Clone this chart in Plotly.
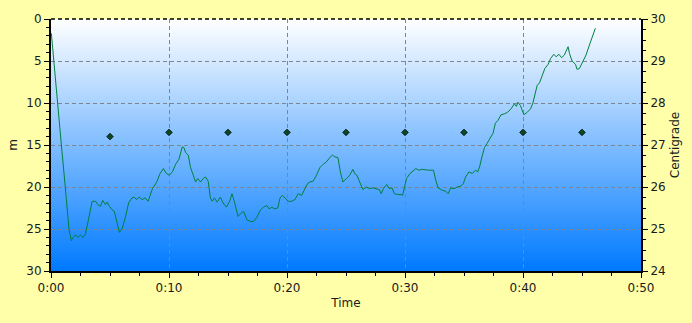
import plotly.graph_objects as go

# Depth profile (minutes, metres)
time_min = [0.03, 0.23, 0.54, 0.88, 1.21, 1.52, 1.72, 1.86, 2.08, 2.28, 2.5, 2.7, 2.92, 3.21, 3.49, 3.77, 3.97,
            4.19, 4.39, 4.61, 4.75, 4.95, 5.17, 5.37, 5.57, 5.79, 6.02, 6.29, 6.58, 6.86, 7.05, 7.25, 7.47, 7.7,
            7.98, 8.23, 8.6, 8.96, 9.24, 9.53, 9.72, 10.0, 10.29, 10.56, 10.84, 11.13, 11.26, 11.41, 11.63,
            11.83, 12.06, 12.25, 12.44, 12.67, 12.9, 13.09, 13.32, 13.51, 13.66, 13.85, 14.08, 14.36, 14.58,
            14.86, 15.14, 15.34, 15.53, 15.76, 15.85, 16.04, 16.32, 16.6, 16.88, 17.16, 17.45, 17.72, 18.0,
            18.29, 18.48, 18.71, 18.93, 19.22, 19.41, 19.6, 19.83, 20.11, 20.4, 20.67, 20.95, 21.24, 21.52,
            21.74, 21.94, 22.22, 22.5, 22.78, 23.06, 23.35, 23.62, 23.85, 24.04, 24.32, 24.52, 24.74, 25.03,
            25.31, 25.59, 25.73, 25.92, 26.15, 26.43, 26.72, 26.99, 27.27, 27.56, 27.83, 27.98, 28.17, 28.45,
            28.68, 28.9, 29.1, 29.38, 29.66, 29.8, 29.94, 30.13, 30.42, 30.7, 30.92, 31.15, 31.48, 31.99,
            32.41, 32.61, 32.8, 33.17, 33.45, 33.65, 33.88, 34.15, 34.43, 34.72, 34.94, 35.14, 35.42, 35.7,
            35.98, 36.17, 36.34, 36.54, 36.74, 36.96, 37.25, 37.46, 37.66, 37.86, 38.14, 38.42, 38.7, 38.98,
            39.27, 39.44, 39.58, 39.78, 39.89, 40.08, 40.36, 40.64, 40.84, 41.01, 41.2, 41.4, 41.63, 41.85,
            42.13, 42.34, 42.61, 42.81, 43.04, 43.27, 43.5, 43.82, 43.94, 44.16, 44.45, 44.58, 44.78, 45.06,
            45.34, 45.63, 45.9, 46.13]
depth_m = [1.7, 5.0, 10.0, 15.0, 20.0, 25.0, 26.4, 26.0, 25.7, 26.0, 25.7, 26.0, 25.6, 23.7, 21.7, 21.7, 22.1,
           22.3, 21.6, 22.1, 21.8, 22.3, 22.7, 22.9, 24.1, 25.4, 25.0, 23.7, 21.9, 21.3, 21.2, 21.5, 21.2, 21.5,
           21.3, 21.7, 20.2, 19.4, 18.4, 17.8, 18.3, 18.6, 18.2, 17.3, 16.7, 15.2, 15.3, 15.9, 16.2,
           17.7, 18.6, 19.4, 19.0, 19.4, 19.0, 18.8, 19.3, 21.3, 21.7, 21.3, 21.8, 21.2, 21.9,
           22.4, 21.7, 20.8, 21.7, 23.1, 23.5, 23.2, 22.9, 23.9, 24.1, 24.1, 23.6, 22.8, 22.4,
           22.2, 22.6, 22.4, 22.6, 22.5, 21.3, 21.0, 21.3, 21.7, 21.7, 21.5, 20.8, 21.0, 20.2,
           19.6, 19.4, 19.3, 18.6, 17.7, 17.3, 17.0, 16.5, 16.2, 16.4, 16.5, 18.2, 19.4, 19.0,
           18.6, 17.9, 18.4, 18.6, 19.4, 20.3, 20.0, 20.2, 20.1, 20.2, 20.3, 20.8, 20.2, 19.7,
           20.2, 20.1, 20.8, 20.9, 20.9, 21.0, 20.2, 19.0, 18.4, 18.0, 17.8, 18.0, 17.9, 18.0,
           18.0, 19.2, 20.1, 20.4, 20.5, 20.8, 20.1, 20.2, 20.0, 19.9, 19.6, 18.8, 18.2, 18.4,
           18.0, 18.2, 17.5, 16.3, 15.3, 14.8, 14.0, 13.6, 12.4, 12.1, 11.4, 11.3, 11.1, 10.7,
           10.1, 10.4, 9.9, 10.3, 10.7, 11.4, 11.1, 10.7, 10.0, 8.9, 7.9, 7.6, 6.6, 5.9,
           5.4, 4.7, 4.2, 4.5, 4.2, 4.6, 4.3, 3.3, 4.1, 5.0, 5.4, 6.0, 5.9, 5.0,
           4.3, 3.1, 1.9, 1.1]

# Temperature samples (minutes, Centigrade)
temp_time = [5, 10, 15, 20, 25, 30, 35, 40, 45]
temp_c = [27.2, 27.3, 27.3, 27.3, 27.3, 27.3, 27.3, 27.3, 27.3]

x_tickvals = [0, 10, 20, 30, 40, 50]
x_ticktext = ["0:00", "0:10", "0:20", "0:30", "0:40", "0:50"]

FONT = "DejaVu Sans"
TXT = "#1a1a1a"
GRID = "#7f8590"

fig = go.Figure()
fig.add_trace(go.Scatter(x=time_min, y=depth_m, mode="lines",
                         line=dict(color="#00803f", width=1), yaxis="y", showlegend=False))
fig.add_trace(go.Scatter(x=temp_time, y=temp_c, mode="markers",
                         marker=dict(symbol="diamond", size=5, color="#0b4a26",
                                     line=dict(color="#000000", width=0.8)),
                         yaxis="y2", showlegend=False))

# vertical gradient background (white -> blue) as overlapping thin bands below gridlines
shapes = []
n = 140
top = (255, 255, 255)
bot = (0, 122, 255)
for i in range(n):
    f = (i + 0.5) / n
    c = tuple(round(top[k] + (bot[k] - top[k]) * f) for k in range(3))
    shapes.append(dict(type="rect", xref="x domain", yref="y domain",
                       x0=0, x1=1, y0=max(0, 1 - (i + 2) / n), y1=1 - i / n,
                       fillcolor="rgb(%d,%d,%d)" % c, line=dict(width=0), layer="below"))
shapes.append(dict(type="line", xref="x domain", yref="y domain", x0=0, x1=1, y0=1, y1=1,
                   line=dict(color="#000000", width=1.5, dash="4px,3px"), layer="above"))

fig.update_layout(
    width=692, height=323,
    margin=dict(l=49, r=49, t=14, b=52),
    paper_bgcolor="#FFFFAA",
    plot_bgcolor="#FFFFFF",
    font=dict(family=FONT, size=12, color=TXT),
    shapes=shapes,
    xaxis=dict(range=[0, 50], tickvals=x_tickvals, ticktext=x_ticktext,
               showgrid=True, gridcolor=GRID, griddash="4px,3px", gridwidth=1,
               showline=True, linecolor="#000000", linewidth=2,
               ticks="outside", ticklen=5, tickcolor="#000000",
               minor=dict(dtick=2.5, ticks="outside", ticklen=3, tickcolor="#000000", showgrid=False),
               title=dict(text="Time", standoff=4, font=dict(family=FONT, size=12, color=TXT)),
               zeroline=False, layer="above traces"),
    yaxis=dict(range=[30, 0], tickvals=[0, 5, 10, 15, 20, 25, 30],
               showgrid=True, gridcolor=GRID, griddash="4px,3px", gridwidth=1,
               showline=True, linecolor="#000000", linewidth=2,
               ticks="outside", ticklen=5, tickcolor="#000000",
               minor=dict(dtick=1, ticks="outside", ticklen=3, tickcolor="#000000", showgrid=False),
               title=dict(text="m", standoff=6, font=dict(family=FONT, size=12, color=TXT)),
               zeroline=False, layer="above traces"),
    yaxis2=dict(range=[24, 30], overlaying="y", side="right", tickvals=[24, 25, 26, 27, 28, 29, 30],
                showgrid=False, showline=True, linecolor="#000000", linewidth=2,
                ticks="outside", ticklen=5, tickcolor="#000000",
                minor=dict(dtick=0.25, ticks="outside", ticklen=3, tickcolor="#000000"),
                title=dict(text="Centigrade", standoff=6, font=dict(family=FONT, size=12, color=TXT)),
                zeroline=False, layer="above traces"),
)

fig.write_html("out.html")
